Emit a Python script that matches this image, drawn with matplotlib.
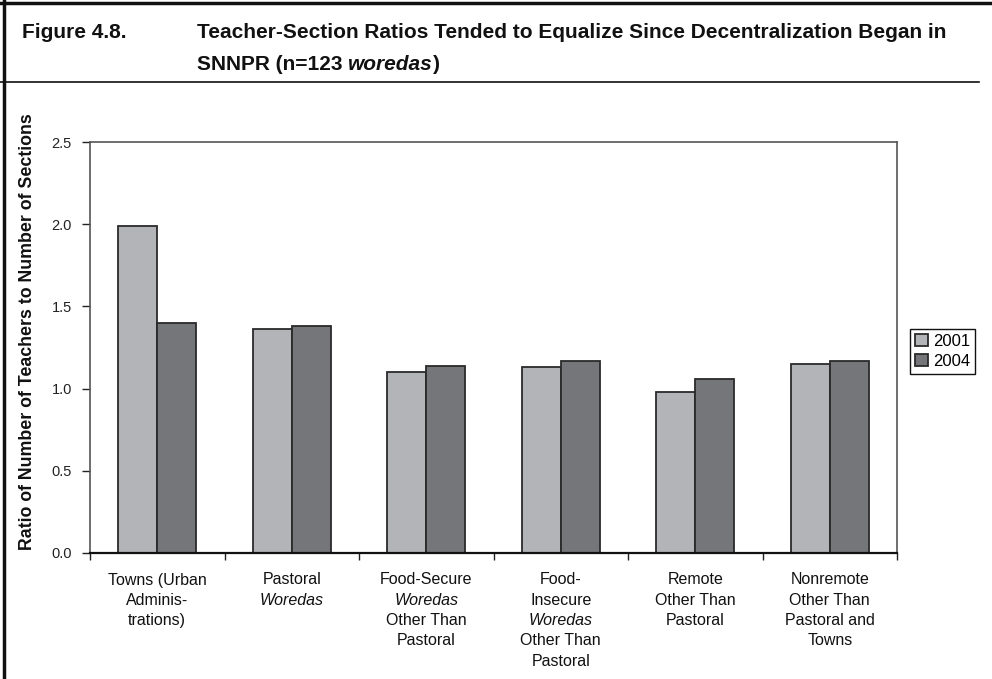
import matplotlib
matplotlib.use("Agg")
import matplotlib.pyplot as plt
import numpy as np
from matplotlib.lines import Line2D

# chart data
categories = [
    ["Towns (Urban", "Adminis-", "trations)"],
    ["Pastoral", "Woredas"],
    ["Food-Secure", "Woredas", "Other Than", "Pastoral"],
    ["Food-", "Insecure", "Woredas", "Other Than", "Pastoral"],
    ["Remote", "Other Than", "Pastoral"],
    ["Nonremote", "Other Than", "Pastoral and", "Towns"],
]
italic_lines = ["Woredas"]
series_names = ["2001", "2004"]
values_2001 = [1.99, 1.36, 1.10, 1.13, 0.98, 1.15]
values_2004 = [1.40, 1.38, 1.14, 1.17, 1.06, 1.17]
ytick_values = [0.0, 0.5, 1.0, 1.5, 2.0, 2.5]
ytick_labels = ["0.0", "0.5", "1.0", "1.5", "2.0", "2.5"]
ylabel = "Ratio of Number of Teachers to Number of Sections"

W, H = 992, 679
plt.rcParams['font.family'] = ['Liberation Sans', 'DejaVu Sans']
title_font = ['Liberation Sans', 'DejaVu Sans']

fig = plt.figure(figsize=(W / 100, H / 100), dpi=100)
ax = fig.add_axes([90 / W, 1 - 553 / H, (897 - 90) / W, (553 - 142) / H])

x = np.arange(len(categories))
w = 0.29
ax.bar(x - w / 2, values_2001, w, color="#b3b4b7", edgecolor="#2a2a2a", linewidth=1.3, label=series_names[0])
ax.bar(x + w / 2, values_2004, w, color="#75767a", edgecolor="#2a2a2a", linewidth=1.3, label=series_names[1])

ax.set_xlim(-0.5, len(categories) - 0.5)
ax.set_ylim(0, 2.5)
ax.set_yticks(ytick_values)
ax.set_yticklabels(ytick_labels)
ax.set_xticks(np.arange(len(categories) + 1) - 0.5)
ax.set_xticklabels([])
ax.tick_params(axis='y', length=6, width=1, direction='out', pad=7, labelsize=10.5, colors='#222')
ax.tick_params(axis='x', length=5, width=1, direction='out', colors='#222')
for s in ['top', 'right', 'left']:
    ax.spines[s].set_color('#555')
    ax.spines[s].set_linewidth(1.2)
ax.spines['bottom'].set_color('#111')
ax.spines['bottom'].set_linewidth(1.6)

# category labels, one line at a time so "Woredas" can be italic
for i, lines in enumerate(categories):
    for j, line in enumerate(lines):
        ax.annotate(line, xy=(i, 0), xycoords=('data', 'axes fraction'),
                    xytext=(0, -27 - 20.3 * j), textcoords='offset pixels',
                    ha='center', va='center', fontsize=11.5, color='#111',
                    fontstyle='italic' if line in italic_lines else 'normal')

fig.text(28 / W, 1 - 332 / H, ylabel, rotation=90, ha='center', va='center',
         fontsize=12.8, fontweight='bold', color='#111')

fig.legend(loc='center left', bbox_to_anchor=(910 / W, 1 - 351 / H), fontsize=12,
           frameon=True, fancybox=False, edgecolor='#111', framealpha=1,
           handlelength=0.75, handleheight=0.75, handletextpad=0.35,
           borderpad=0.3, labelspacing=0.3, borderaxespad=0)

# title, drawn in runs so the italic word can sit inline
renderer = fig.canvas.get_renderer()


def draw_runs(x_px, y_px, runs, size):
    xx = x_px
    for s, style in runs:
        t = fig.text(xx / W, 1 - y_px / H, s, fontsize=size, fontweight='bold',
                     fontstyle=style, family=title_font, va='baseline', ha='left', color='#111')
        xx += t.get_window_extent(renderer).width


tsize = 15.0
draw_runs(22, 38, [("Figure 4.8.", 'normal')], tsize)
draw_runs(197, 38, [("Teacher-Section Ratios Tended to Equalize Since Decentralization Began in", 'normal')], tsize)
draw_runs(197, 70, [("SNNPR (n=123", 'normal'), (" ", 'normal'), ("woredas", 'italic'), (")", 'normal')], tsize)

# page frame lines
fig.add_artist(Line2D([0, 1], [1 - 3 / H, 1 - 3 / H], transform=fig.transFigure, color='#111', lw=2.5))
fig.add_artist(Line2D([4 / W, 4 / W], [0, 1], transform=fig.transFigure, color='#111', lw=2.5))
fig.add_artist(Line2D([0, 979 / W], [1 - 82 / H, 1 - 82 / H], transform=fig.transFigure, color='#111', lw=1.2))

fig.savefig("out.png", dpi=100)
